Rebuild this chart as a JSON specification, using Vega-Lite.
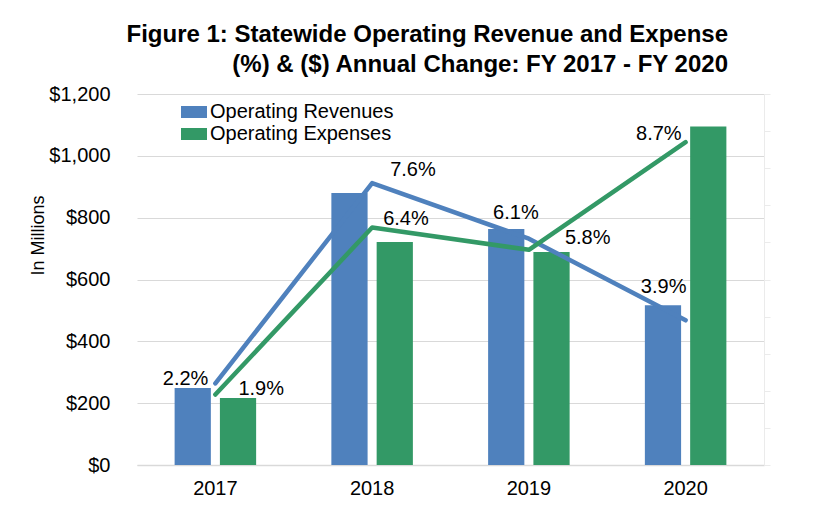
{
  "$schema": "https://vega.github.io/schema/vega-lite/v6.json",
  "width": 627,
  "height": 371,
  "autosize": {"type": "none"},
  "padding": {"left": 137, "top": 94, "right": 59, "bottom": 55},
  "background": "white",
  "config": {"view": {"stroke": null}, "font": "Liberation Sans"},
  "title": {
    "text": ["Figure 1: Statewide Operating Revenue and Expense", "(%) & ($) Annual Change: FY 2017 - FY 2020"],
    "anchor": "end",
    "align": "right",
    "frame": "group",
    "dx": -36,
    "offset": 7,
    "fontSize": 24,
    "fontWeight": "bold",
    "font": "Liberation Sans",
    "color": "#000000",
    "lineHeight": 30
  },
  "data": {
    "values": [
      {"year": "2017", "series": "Operating Revenues", "amount": 249, "pct": 0.022},
      {"year": "2017", "series": "Operating Expenses", "amount": 217, "pct": 0.019},
      {"year": "2018", "series": "Operating Revenues", "amount": 880, "pct": 0.076},
      {"year": "2018", "series": "Operating Expenses", "amount": 721, "pct": 0.064},
      {"year": "2019", "series": "Operating Revenues", "amount": 763, "pct": 0.061},
      {"year": "2019", "series": "Operating Expenses", "amount": 689, "pct": 0.058},
      {"year": "2020", "series": "Operating Revenues", "amount": 517, "pct": 0.039},
      {"year": "2020", "series": "Operating Expenses", "amount": 1095, "pct": 0.087}
    ]
  },
  "encoding": {
    "x": {
      "field": "year",
      "type": "nominal",
      "scale": {"paddingInner": 0.48, "paddingOuter": 0.24},
      "axis": {
        "title": null,
        "labelAngle": 0,
        "labelFontSize": 20,
        "labelColor": "#000000",
        "labelPadding": 13,
        "ticks": false,
        "domainColor": "#D9D9D9",
        "domainWidth": 1.5
      }
    }
  },
  "layer": [
    {
      "mark": {"type": "bar"},
      "encoding": {
        "xOffset": {
          "field": "series",
          "type": "nominal",
          "sort": ["Operating Revenues", "Operating Expenses"],
          "scale": {"paddingInner": 0.2}
        },
        "y": {
          "field": "amount",
          "type": "quantitative",
          "scale": {"domain": [0, 1200]},
          "axis": {
            "values": [0, 200, 400, 600, 800, 1000, 1200],
            "format": "$,.0f",
            "labelFontSize": 20,
            "labelColor": "#000000",
            "labelPadding": 27,
            "ticks": false,
            "domain": false,
            "grid": true,
            "gridColor": "#D9D9D9",
            "title": "In Millions",
            "titleFontSize": 18,
            "titleFontWeight": "normal",
            "titleColor": "#000000",
            "titleX": -99,
            "titleY": 141,
            "titleAngle": -90,
            "titleBaseline": "middle",
            "titleAlign": "center"
          }
        },
        "color": {
          "field": "series",
          "type": "nominal",
          "scale": {"domain": ["Operating Revenues", "Operating Expenses"], "range": ["#4F81BD", "#339966"]},
          "legend": {
            "title": null,
            "orient": "none",
            "legendX": 47,
            "legendY": 8,
            "padding": 0,
            "symbolType": "M-1.625,-0.75H1.625V0.75H-1.625Z",
            "symbolSize": 256,
            "symbolStrokeWidth": 0,
            "symbolOpacity": 1,
            "labelFontSize": 20,
            "labelLimit": 0,
            "labelColor": "#000000",
            "labelOffset": 6,
            "rowPadding": 2
          }
        }
      }
    },
    {
      "encoding": {
        "y": {
          "field": "pct",
          "type": "quantitative",
          "scale": {"domain": [0, 0.1]},
          "axis": {
            "orient": "right",
            "values": [0, 0.01, 0.02, 0.03, 0.04, 0.05, 0.06, 0.07, 0.08, 0.09, 0.1],
            "labels": false,
            "grid": false,
            "title": null,
            "ticks": true,
            "tickSize": 6,
            "tickColor": "#EBEBEB",
            "domainColor": "#EBEBEB"
          }
        }
      },
      "layer": [
        {
          "mark": {"type": "line", "strokeWidth": 4.5, "strokeCap": "round", "strokeJoin": "round"},
          "encoding": {
            "stroke": {
              "field": "series",
              "type": "nominal",
              "scale": {"domain": ["Operating Revenues", "Operating Expenses"], "range": ["#4F81BD", "#339966"]},
              "legend": null
            }
          }
        },
        {
          "transform": [{"filter": "datum.year == '2017' && datum.series == 'Operating Revenues'"}],
          "mark": {"type": "text", "align": "right", "baseline": "middle", "dx": -7, "dy": -4, "fontSize": 20, "color": "#000000"},
          "encoding": {"text": {"field": "pct", "type": "quantitative", "format": ".1%"}}
        },
        {
          "transform": [{"filter": "datum.year == '2017' && datum.series == 'Operating Expenses'"}],
          "mark": {"type": "text", "align": "left", "baseline": "middle", "dx": 23, "dy": -6, "fontSize": 20, "color": "#000000"},
          "encoding": {"text": {"field": "pct", "type": "quantitative", "format": ".1%"}}
        },
        {
          "transform": [{"filter": "datum.year == '2018' && datum.series == 'Operating Revenues'"}],
          "mark": {"type": "text", "align": "left", "baseline": "middle", "dx": 18, "dy": -13, "fontSize": 20, "color": "#000000"},
          "encoding": {"text": {"field": "pct", "type": "quantitative", "format": ".1%"}}
        },
        {
          "transform": [{"filter": "datum.year == '2018' && datum.series == 'Operating Expenses'"}],
          "mark": {"type": "text", "align": "left", "baseline": "middle", "dx": 11, "dy": -9, "fontSize": 20, "color": "#000000"},
          "encoding": {"text": {"field": "pct", "type": "quantitative", "format": ".1%"}}
        },
        {
          "transform": [{"filter": "datum.year == '2019' && datum.series == 'Operating Revenues'"}],
          "mark": {"type": "text", "align": "center", "baseline": "middle", "dx": -13, "dy": -26, "fontSize": 20, "color": "#000000"},
          "encoding": {"text": {"field": "pct", "type": "quantitative", "format": ".1%"}}
        },
        {
          "transform": [{"filter": "datum.year == '2019' && datum.series == 'Operating Expenses'"}],
          "mark": {"type": "text", "align": "left", "baseline": "middle", "dx": 36, "dy": -12, "fontSize": 20, "color": "#000000"},
          "encoding": {"text": {"field": "pct", "type": "quantitative", "format": ".1%"}}
        },
        {
          "transform": [{"filter": "datum.year == '2020' && datum.series == 'Operating Revenues'"}],
          "mark": {"type": "text", "align": "center", "baseline": "middle", "dx": -22, "dy": -33, "fontSize": 20, "color": "#000000"},
          "encoding": {"text": {"field": "pct", "type": "quantitative", "format": ".1%"}}
        },
        {
          "transform": [{"filter": "datum.year == '2020' && datum.series == 'Operating Expenses'"}],
          "mark": {"type": "text", "align": "right", "baseline": "middle", "dx": -4, "dy": -8, "fontSize": 20, "color": "#000000"},
          "encoding": {"text": {"field": "pct", "type": "quantitative", "format": ".1%"}}
        }
      ]
    }
  ],
  "resolve": {"scale": {"y": "independent"}}
}
